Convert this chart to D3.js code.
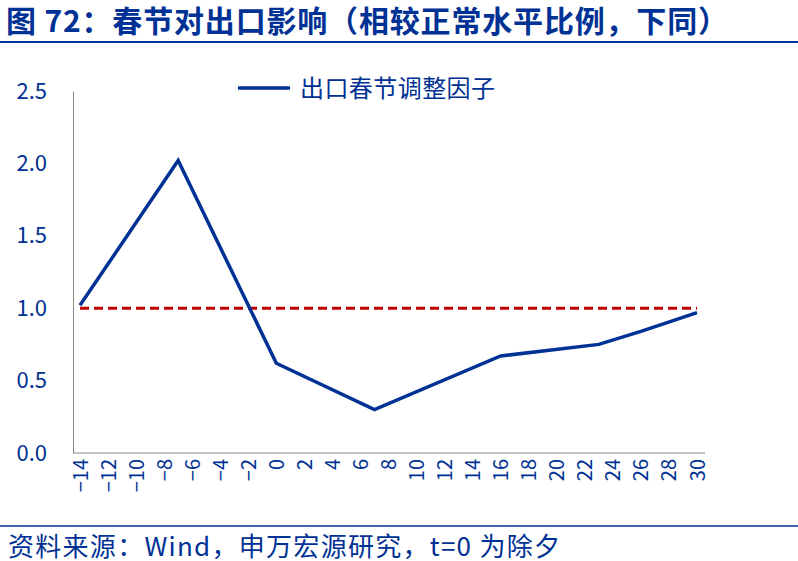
<!DOCTYPE html><html><head><meta charset="utf-8"><script src="https://cdn.jsdelivr.net/npm/d3@7"></script>
<style>body{margin:0;background:#fff}</style></head><body><script>
const days=[-14,-7,0,7,16,23,26,30];
const factor=[1.02,2.02,0.62,0.30,0.67,0.75,0.84,0.97];
const baseline=[1,1];
const baseDays=[-14,30];
const yTicks=[0,0.5,1,1.5,2,2.5];
const xTicks=d3.range(-14,31,2);
const W=798,H=561,blue="#003194",font="'Noto Sans CJK SC',sans-serif";
const svg=d3.select("body").append("svg").attr("width",W).attr("height",H).style("font-family",font);
svg.append("text").attr("x",6).attr("y",32).attr("fill",blue).attr("font-size",30).attr("font-weight","bold").attr("textLength",722).text("图 72：春节对出口影响（相较正常水平比例，下同）");
svg.append("line").attr("x1",0).attr("x2",W).attr("y1",42).attr("y2",42).attr("stroke",blue).attr("stroke-width",2);
svg.append("line").attr("x1",0).attr("x2",W).attr("y1",526).attr("y2",526).attr("stroke",blue).attr("stroke-width",1.5);
svg.append("text").attr("x",8).attr("y",556).attr("fill",blue).attr("font-size",26).attr("textLength",552).text("资料来源：Wind，申万宏源研究，t=0 为除夕");
const x=d3.scaleLinear().domain([-14,30]).range([80,697]);
const y=d3.scaleLinear().domain([0,2.5]).range([453,91]);
const ya=svg.append("g").attr("transform","translate(73,0)").call(d3.axisLeft(y).tickValues(yTicks).tickFormat(d3.format(".1f")).tickSize(0).tickPadding(26));
ya.select(".domain").attr("stroke","#888");
ya.selectAll("text").attr("font-size",22).attr("fill",blue).attr("font-family",font);
const xa=svg.append("g").attr("transform","translate(0,453)").call(d3.axisBottom(x).tickValues(xTicks).tickSize(0).tickPadding(6));
xa.select(".domain").attr("stroke","#888").attr("d","M73,0H705");
xa.selectAll("text").attr("font-size",20).attr("fill",blue).attr("font-family",font)
 .attr("transform","rotate(-90)").attr("text-anchor","end").attr("dy","0.35em").attr("x",-6).attr("y",0);
svg.append("path").datum(baseDays.map((d,i)=>[d,baseline[i]])).attr("fill","none").attr("stroke","#c00000").attr("stroke-width",3).attr("stroke-dasharray","9,5")
 .attr("d",d3.line().x(d=>x(d[0])).y(d=>y(d[1])));
svg.append("path").datum(days.map((d,i)=>[d,factor[i]])).attr("fill","none").attr("stroke",blue).attr("stroke-width",3.5)
 .attr("d",d3.line().x(d=>x(d[0])).y(d=>y(d[1])));
svg.append("line").attr("x1",238).attr("x2",290).attr("y1",88).attr("y2",88).attr("stroke",blue).attr("stroke-width",3.5);
svg.append("text").attr("x",300).attr("y",97).attr("font-size",24).attr("fill",blue).attr("textLength",195).text("出口春节调整因子");
</script></body></html>
